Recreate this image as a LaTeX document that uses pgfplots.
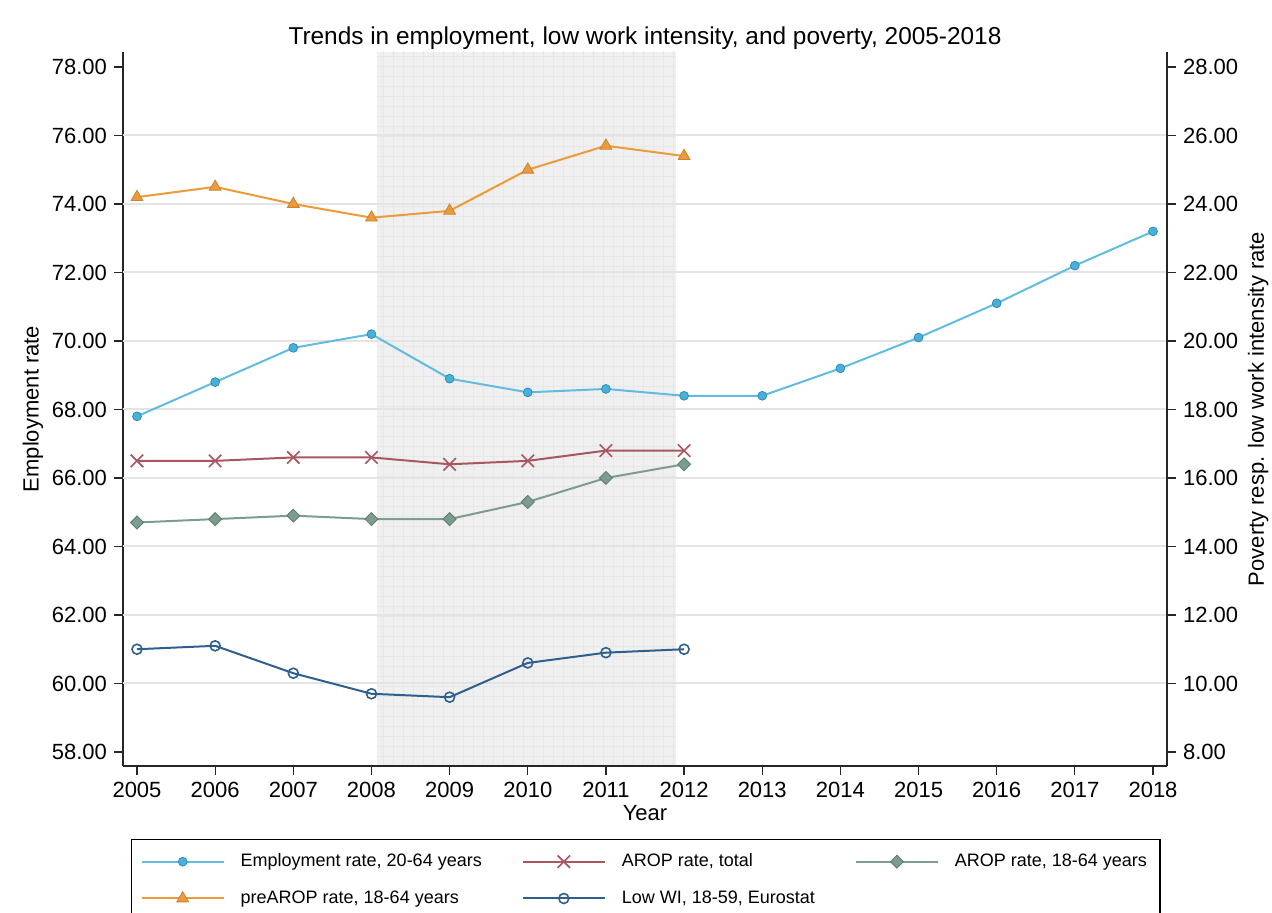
\documentclass[border=0pt]{standalone}
\usepackage{fontspec}
\setmainfont{Liberation Sans}
\usepackage{pgfplots}
\pgfplotsset{compat=1.18}
\definecolor{empline}{HTML}{62BBE0}
\definecolor{empfill}{HTML}{4AAFD9}
\definecolor{empedge}{HTML}{2C8DBB}
\definecolor{aropc}{HTML}{A8565F}
\definecolor{grnc}{HTML}{7C9C8E}
\definecolor{grnedge}{HTML}{5C7C6E}
\definecolor{orgc}{HTML}{EC9A3A}
\definecolor{bluc}{HTML}{2F5F8F}
\definecolor{shadec}{HTML}{F0F0F0}
\definecolor{shadegrid}{HTML}{E7E7E7}
\definecolor{gridc}{HTML}{E4E4E4}
\pgfplotsset{
  common/.style={scale only axis, width=522pt, height=357pt,
    at={(61.5pt,73.5pt)}, anchor=south west,
    xmin=2004.821, xmax=2018.179,
    axis line style={line width=0.7pt, black!85},
    tick style={line width=0.6pt, black!85},
    major tick length=4.5pt, tick align=outside,
    tick label style={font=\fontsize{11}{13}\selectfont},
    label style={font=\fontsize{11}{13}\selectfont},
    /pgf/number format/assume math mode=true},
  empstyle/.style={color=empline, line width=1pt, mark=*, mark size=2.2pt,
    mark options={fill=empfill, draw=empedge, line width=0.4pt}},
  aropstyle/.style={color=aropc, line width=1pt, mark=x, mark size=4.4pt,
    mark options={line width=0.8pt}},
  grnstyle/.style={color=grnc, line width=1pt, mark=square*, mark size=2.3pt,
    mark options={rotate=45, fill=grnc, draw=grnedge, line width=0.4pt}},
  orgstyle/.style={color=orgc, line width=1pt, mark=triangle*, mark size=3.4pt,
    mark options={fill=orgc, draw=orgc!85!black, line width=0.4pt}},
  blustyle/.style={color=bluc, line width=1pt, mark=o, mark size=2.5pt,
    mark options={line width=0.8pt}},
}
\begin{document}
\begin{tikzpicture}
\useasboundingbox (0,0) rectangle (636pt,456.5pt);
% shaded recession band
\begin{axis}[common, hide axis, ymin=57.591, ymax=78.438]
\fill[shadec] (axis cs:2008.07,57.591) rectangle (axis cs:2011.9,78.438);
\begin{scope}
\clip (axis cs:2008.07,57.591) rectangle (axis cs:2011.9,78.438);
\draw[shadegrid, line width=0.3pt, step=5pt] (axis cs:2008.0,57.5) grid (axis cs:2012.0,78.5);
\end{scope}
\end{axis}
% left axis: employment
\begin{axis}[common, ymin=57.591, ymax=78.438,
  axis x line*=bottom, axis y line*=left,
  xtick={2005,2006,...,2018},
  xticklabel style={/pgf/number format/1000 sep={}},
  ytick={58,60,...,78},
  yticklabel style={/pgf/number format/.cd, fixed, fixed zerofill, precision=2},
  extra y ticks={60,62,...,76}, extra y tick labels={},
  extra y tick style={major tick length=0pt, grid=major},
  major grid style={line width=1pt, gridc},
  ylabel={Employment rate},
  ylabel style={at={(axis description cs:-0.0862,0.5)}, anchor=center},
  xlabel={Year},
  xlabel style={at={(axis description cs:0.5,-0.0658)}, anchor=center},
  title={Trends in employment, low work intensity, and poverty, 2005-2018},
  title style={at={(axis description cs:0.5,1)}, anchor=center, yshift=1pt,
    font=\fontsize{12.2}{14}\selectfont},
]
\addplot[empstyle] coordinates {
(2005,67.8) (2006,68.8) (2007,69.8) (2008,70.2) (2009,68.9) (2010,68.5)
(2011,68.6) (2012,68.4) (2013,68.4) (2014,69.2) (2015,70.1) (2016,71.1)
(2017,72.2) (2018,73.2)};
\end{axis}
% right axis: poverty / low work intensity
\begin{axis}[common, ymin=7.591, ymax=28.438,
  axis y line*=right, axis x line=none,
  ytick={8,10,...,28},
  yticklabel style={/pgf/number format/.cd, fixed, fixed zerofill, precision=2},
  ylabel={Poverty resp. low work intensity rate},
  ylabel style={at={(axis description cs:1.0872,0.5)}, anchor=center, rotate=0},
  legend columns=3,
  legend cell align=left,
  legend image code/.code={\draw[mark repeat=2, mark phase=2, #1]
    plot coordinates {(0pt,0pt) (20.5pt,0pt) (41pt,0pt)};},
  legend style={at={(axis description cs:0.00766,-0.1022)}, anchor=north west,
    draw=black, line width=0.7pt, font=\fontsize{9}{11}\selectfont,
    inner xsep=4.5pt, inner ysep=5pt, row sep=6.5pt,
    /tikz/every odd column/.append style={column sep=6pt},
    /tikz/every even column/.append style={column sep=18pt}},
]
\addlegendimage{empstyle}
\addlegendentry{Employment rate, 20-64 years}
\addplot[aropstyle] coordinates {
(2005,16.5) (2006,16.5) (2007,16.6) (2008,16.6) (2009,16.4) (2010,16.5)
(2011,16.8) (2012,16.8)};
\addlegendentry{AROP rate, total}
\addplot[grnstyle] coordinates {
(2005,14.7) (2006,14.8) (2007,14.9) (2008,14.8) (2009,14.8) (2010,15.3)
(2011,16.0) (2012,16.4)};
\addlegendentry{AROP rate, 18-64 years}
\addplot[orgstyle] coordinates {
(2005,24.2) (2006,24.5) (2007,24.0) (2008,23.6) (2009,23.8) (2010,25.0)
(2011,25.7) (2012,25.4)};
\addlegendentry{preAROP rate, 18-64 years}
\addplot[blustyle] coordinates {
(2005,11.0) (2006,11.1) (2007,10.3) (2008,9.7) (2009,9.6) (2010,10.6)
(2011,10.9) (2012,11.0)};
\addlegendentry{Low WI, 18-59, Eurostat}
\end{axis}
\end{tikzpicture}
\end{document}
